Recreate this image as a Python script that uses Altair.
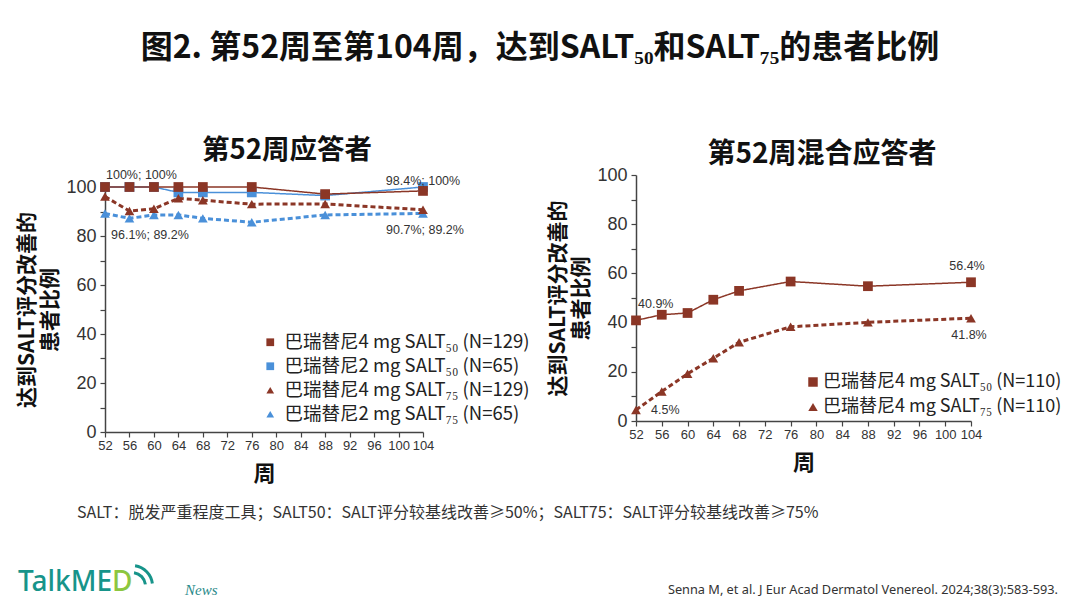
import altair as alt
import pandas as pd

FONT_CJK = "Noto Sans CJK SC"
FONT_NUM = "Liberation Sans"
BROWN = "#8b3626"
BLUE = "#4a90d9"
TEAL = "#17948a"

# ---------------- data ----------------
weeks = [52, 56, 60, 64, 68, 76, 88, 104]
tick_weeks = list(range(52, 105, 4))
tick_y = list(range(0, 101, 10))

# 第52周应答者
left_series = [
    "巴瑞替尼4 mg SALT₅₀ (N=129)",
    "巴瑞替尼2 mg SALT₅₀ (N=65)",
    "巴瑞替尼4 mg SALT₇₅ (N=129)",
    "巴瑞替尼2 mg SALT₇₅ (N=65)",
]
l_4mg_s50 = [100, 100, 100, 100, 100, 100, 97.1, 98.4]
l_2mg_s50 = [100, 100, 100, 97.8, 97.8, 97.8, 96.5, 100]
l_4mg_s75 = [96.1, 90.2, 91.1, 95.4, 94.6, 93.0, 93.1, 90.7]
l_2mg_s75 = [89.2, 87.2, 88.6, 88.6, 87.2, 85.6, 88.6, 89.2]

# 第52周混合应答者
right_series = [
    "巴瑞替尼4 mg SALT₅₀ (N=110)",
    "巴瑞替尼4 mg SALT₇₅ (N=110)",
]
r_4mg_s50 = [40.9, 43.2, 43.9, 49.3, 52.9, 56.7, 54.8, 56.4]
r_4mg_s75 = [4.5, 12.0, 19.2, 25.5, 32.0, 38.3, 40.1, 41.8]

# value labels: (week, value, text)
left_label_weeks = [52, 104, 52, 104]
left_label_values = [100, 100, 89.2, 89.2]
left_label_texts = ["100%; 100%", "98.4%; 100%", "96.1%; 89.2%", "90.7%; 89.2%"]
right_label_weeks = [52, 104, 104, 52]
right_label_values = [40.9, 56.4, 41.8, 4.5]
right_label_texts = ["40.9%", "56.4%", "41.8%", "4.5%"]


def long_df(names, series_values, draw_order):
    rows = []
    for i in draw_order:
        for w, v in zip(weeks, series_values[i]):
            rows.append({"week": w, "value": v, "series": names[i]})
    return pd.DataFrame(rows)


# blue series first so that brown marks lie on top where they coincide
left_df = long_df(left_series, [l_4mg_s50, l_2mg_s50, l_4mg_s75, l_2mg_s75], [3, 1, 2, 0])
right_df = long_df(right_series, [r_4mg_s50, r_4mg_s75], [1, 0])

Y_TITLE = ["达到SALT评分改善的", "患者比例"]


def make_axes(x_off, y_off):
    xaxis = alt.Axis(
        orient="bottom", offset=x_off, values=tick_weeks, title="周",
        titleFont=FONT_CJK, titleFontSize=22, titleFontWeight="bold", titleColor="#111",
        titlePadding=11, labelFont=FONT_NUM, labelFontSize=13, labelColor="#333",
        labelPadding=2, labelOverlap=False, labelFlush=False, labelBound=False,
        domainColor="#444", domainWidth=1.5, tickColor="#444", tickWidth=1.2,
        tickSize=5, grid=False,
    )
    yaxis = alt.Axis(
        orient="left", offset=y_off, values=tick_y,
        labelExpr="datum.value % 20 === 0 ? datum.label : ''",
        title=Y_TITLE, titleFont=FONT_CJK, titleFontSize=21, titleFontWeight="bold",
        titleColor="#111", titlePadding=5, titleLineHeight=23,
        labelFont=FONT_NUM, labelFontSize=18, labelColor="#333", labelPadding=4,
        domainColor="#444", domainWidth=1.5, tickColor="#444", tickWidth=1.2,
        tickSize=5, grid=False,
    )
    return xaxis, yaxis


def panel(df, names, colors, shapes, dashes, widths, xrange, yrange, x_off, y_off,
          legend_x, legend_y, sym_size, label_offset, legend_font, row_pad,
          lab_weeks, lab_values, lab_texts, lab_styles):
    xs = alt.Scale(domain=[52, 104], range=xrange, nice=False, zero=False)
    ys = alt.Scale(domain=[0, 100], range=yrange, nice=False)
    xaxis, yaxis = make_axes(x_off, y_off)
    X = alt.X("week:Q", scale=xs, axis=xaxis)
    Y = alt.Y("value:Q", scale=ys, axis=yaxis)
    cscale = alt.Scale(domain=names, range=colors)
    leg = alt.Legend(
        orient="none", legendX=legend_x, legendY=legend_y, title=None,
        labelFont=FONT_CJK, labelFontSize=legend_font, labelColor="#222",
        labelOffset=label_offset, symbolSize=sym_size, symbolStrokeWidth=0,
        rowPadding=row_pad, padding=0, labelLimit=400,
    )
    base = alt.Chart(df)
    layers = []
    # lines, drawn per series in the same order as the data (blue first)
    seen = []
    for s in df["series"]:
        if s not in seen:
            seen.append(s)
    for s in seen:
        i = names.index(s)
        layers.append(
            base.transform_filter(alt.datum.series == s)
            .mark_line(color=colors[i], strokeDash=dashes[i], strokeWidth=widths[i])
            .encode(x=X, y=Y)
        )
    points = base.mark_point(filled=True, opacity=1, size=95).encode(
        x=X, y=Y,
        color=alt.Color("series:N", scale=cscale, legend=leg),
        shape=alt.Shape("series:N", scale=alt.Scale(domain=names, range=shapes), legend=leg),
    )
    layers.append(points)
    for w, v, t, (dx, dy, align) in zip(lab_weeks, lab_values, lab_texts, lab_styles):
        ldf = pd.DataFrame({"week": [w], "value": [v], "text": [t]})
        layers.append(
            alt.Chart(ldf).mark_text(
                dx=dx, dy=dy, align=align, baseline="middle", font=FONT_NUM,
                fontSize=12.5, color="#333",
            ).encode(x=X, y=Y, text="text:N")
        )
    return alt.layer(*layers)


left = panel(
    left_df, left_series,
    [BROWN, BLUE, BROWN, BLUE],
    ["square", "square", "triangle-up", "triangle-up"],
    [[1, 0], [1, 0], [5, 3], [5, 3]],
    [1.5, 1.5, 3, 3],
    [97, 415], [424, 179], -168, -97,
    253, 325, 60, 5, 18.5, 5,
    left_label_weeks, left_label_values, left_label_texts,
    [(1, -12, "left"), (0, -6, "center"), (6, 22, "left"), (2, 17, "center")],
)

right = panel(
    right_df, right_series,
    [BROWN, BROWN],
    ["square", "triangle-up"],
    [[1, 0], [5, 3]],
    [1.5, 3],
    [628, 963], [413, 167], -179, -628,
    796, 365, 90, 1, 18, 7,
    right_label_weeks, right_label_values, right_label_texts,
    [(2, -16, "left"), (-4, -16, "center"), (-2, 17, "center"), (15, 0, "left")],
)

one = alt.Data(values=[{}])


def note(text, x, y, **kw):
    return alt.Chart(one).mark_text(text=text, baseline="middle", **kw).encode(
        x=alt.value(x), y=alt.value(y)
    )


def arc(r1, r2):
    return alt.Chart(one).mark_arc(
        radius=r1, radius2=r2, theta=0.15, theta2=1.45, color=TEAL
    ).encode(x=alt.value(124), y=alt.value(578))


annotations = [
    note("图2. 第52周至第104周，达到SALT₅₀和SALT₇₅的患者比例", 532, 40, align="center",
         font=FONT_CJK, fontSize=32, fontWeight="bold", color="#111"),
    note("第52周应答者", 279, 143, align="center", font=FONT_CJK, fontSize=27.5,
         fontWeight="bold", color="#111"),
    note("第52周混合应答者", 814, 147, align="center", font=FONT_CJK, fontSize=28,
         fontWeight="bold", color="#111"),
    note("SALT：脱发严重程度工具；SALT50：SALT评分较基线改善≥50%；SALT75：SALT评分较基线改善≥75%",
         69, 505, align="left", font=FONT_CJK, fontSize=16, color="#333"),
    note("Senna M, et al. J Eur Acad Dermatol Venereol. 2024;38(3):583-593.", 1050, 582,
         align="right", font="Noto Sans", fontSize=12.75, color="#333"),
    note("TalkME", 10, 575, align="left", font="Noto Sans", fontSize=28,
         fontWeight=500, color=TEAL),
    note("D", 104, 575, align="left", font="Noto Sans", fontSize=28,
         fontWeight=500, color="#8cc63f"),
    arc(12, 15),
    arc(19, 22),
    note("News", 177, 582, align="left", font="Liberation Serif", fontSize=15,
         fontStyle="italic", color="#2a8a8a"),
]

chart = (
    alt.layer(left, right, *annotations)
    .resolve_scale(x="independent", y="independent", color="independent",
                   shape="independent")
    .properties(width=1064, height=592, autosize=alt.AutoSizeParams(type="none"),
                padding=0, background="white")
    .configure_view(stroke=None)
)

chart.save("out.html", embed_options={"renderer": "svg", "actions": False})
